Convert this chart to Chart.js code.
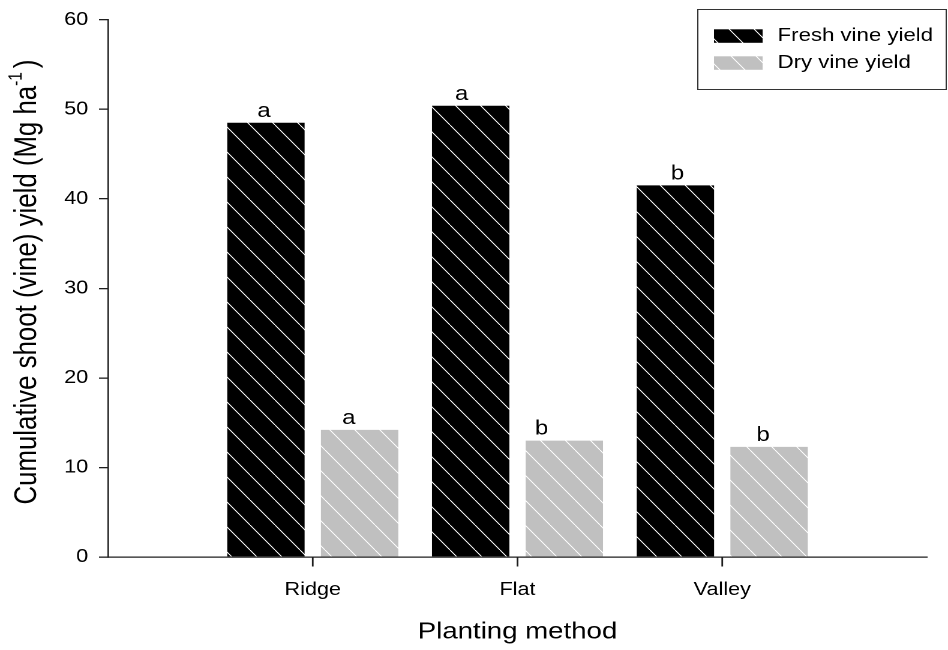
<!DOCTYPE html>
<html>
<head>
<meta charset="utf-8">
<script src="https://cdn.jsdelivr.net/npm/chart.js@4.4.1/dist/chart.umd.min.js"></script>
<style>
  html, body { margin: 0; padding: 0; background: #fff; overflow: hidden; }
  canvas { display: block; }
</style>
</head>
<body>
<!-- drawn on a narrower canvas and widened 1.2x by CSS for the wide-lettered look -->
<canvas id="c" width="790" height="650" style="width:948px;height:650px"></canvas>
<script>
// ---- data ----
const categories   = ['Ridge', 'Flat', 'Valley'];
const seriesNames  = ['Fresh vine yield', 'Dry vine yield'];
const freshVine    = [48.5, 50.4, 41.5];   // Mg ha-1
const dryVine      = [14.2, 13.0, 12.3];   // Mg ha-1
const freshLetters = ['a', 'a', 'b'];
const dryLetters   = ['a', 'b', 'b'];
const yTicks       = [0, 10, 20, 30, 40, 50, 60];

// ---- styling ----
const FONT = '"Liberation Sans", Arial, Helvetica, sans-serif';
const STRETCH = 1.2;                       // CSS widening of the canvas
const AXIS = '#1e1e1e';
const fills = ['#000000', '#c0c0c0'];
// horizontal nudges of the significance letters (canvas px)
const letterShift = [[-1.7, -7.5, 1.7], [-9, -19, -5]];

function hatch(base) {
  const R = 4, T = 25 * R;                // tile drawn at 4x, 25px period
  const tile = document.createElement('canvas');
  tile.width = T; tile.height = T;
  const t = tile.getContext('2d');
  t.fillStyle = base;
  t.fillRect(0, 0, T, T);
  t.strokeStyle = '#ffffff';
  t.lineWidth = 0.95 * R;
  for (let k = -1; k <= 1; k++) {
    t.beginPath();
    t.moveTo(k * T, 0);
    t.lineTo(k * T + T, T);
    t.stroke();
  }
  const p = document.createElement('canvas').getContext('2d').createPattern(tile, 'repeat');
  p.setTransform(new DOMMatrix().scale(1 / (R * STRETCH), 1 / R));
  return p;
}
const patterns = fills.map(hatch);

const decorations = {
  id: 'decorations',
  afterDatasetsDraw(chart) {
    const ctx = chart.ctx;
    ctx.save();
    ctx.fillStyle = '#000';
    ctx.font = '20px ' + FONT;
    ctx.textAlign = 'center';
    ctx.textBaseline = 'alphabetic';
    [freshLetters, dryLetters].forEach((letters, d) => {
      chart.getDatasetMeta(d).data.forEach((bar, i) => {
        ctx.fillText(letters[i], bar.x + letterShift[d][i], bar.y - 6);
      });
    });
    ctx.restore();
  },
  afterDraw(chart) {
    const ctx = chart.ctx;
    const area = chart.chartArea;
    const xs = chart.scales.x;
    ctx.save();

    // category tick marks below the x axis
    ctx.fillStyle = AXIS;
    categories.forEach((_, i) => {
      const px = xs.getPixelForValue(i + 1);
      ctx.fillRect(px - 0.7, area.bottom, 1.4, 9.5);
    });

    ctx.fillStyle = '#000';
    // x axis title
    ctx.font = '23px ' + FONT;
    ctx.textAlign = 'center';
    ctx.textBaseline = 'middle';
    ctx.fillText('Planting method', (area.left + area.right) / 2, 632);

    // y axis title with superscript unit
    const main = 'Cumulative shoot (vine) yield (Mg ha';
    const sup = '-1';
    const tail = ')';
    const fMain = '25.8px ' + FONT, fSup = '15.5px ' + FONT;
    ctx.font = fMain;
    const wMain = ctx.measureText(main).width;
    const wTail = ctx.measureText(tail).width;
    ctx.font = fSup;
    const wSup = ctx.measureText(sup).width;
    const gap = 4;
    const total = wMain + wSup + gap + wTail;
    ctx.translate(23, 282);
    ctx.rotate(-Math.PI / 2);
    ctx.textAlign = 'left';
    ctx.textBaseline = 'middle';
    let x = -total / 2;
    ctx.font = fMain; ctx.fillText(main, x, 0); x += wMain;
    ctx.font = fSup;  ctx.fillText(sup, x, -9.5); x += wSup + gap;
    ctx.font = fMain; ctx.fillText(tail, x, 0);
    ctx.restore();

    // legend
    ctx.save();
    ctx.strokeStyle = '#333';
    ctx.lineWidth = 1;
    ctx.strokeRect(581.5, 9.5, 207, 80);
    ctx.font = '18.5px ' + FONT;
    ctx.textAlign = 'left';
    ctx.textBaseline = 'middle';
    const rows = [36, 63];
    chart.data.datasets.forEach((ds, d) => {
      ctx.fillStyle = patterns[d];
      ctx.fillRect(595, rows[d] - 6.7, 40.5, 13.5);
      ctx.fillStyle = '#000';
      ctx.fillText(ds.label, 648, rows[d]);
    });
    ctx.restore();
  }
};

const toPoints = vals => vals.map((v, i) => ({ x: i + 1, y: v }));

new Chart(document.getElementById('c'), {
  type: 'bar',
  data: {
    datasets: [
      { label: seriesNames[0], data: toPoints(freshVine), backgroundColor: patterns[0], borderWidth: 0 },
      { label: seriesNames[1], data: toPoints(dryVine),   backgroundColor: patterns[1], borderWidth: 0 }
    ]
  },
  options: {
    responsive: false,
    devicePixelRatio: 2,
    animation: false,
    events: [],
    categoryPercentage: 0.915,
    barPercentage: 0.826,
    layout: { padding: { top: 19, right: 17.5, left: 0, bottom: 0 } },
    plugins: { legend: { display: false }, tooltip: { enabled: false }, title: { display: false } },
    scales: {
      x: {
        type: 'linear',
        min: 0,
        max: categories.length + 1,
        offset: false,
        afterBuildTicks: s => { s.ticks = categories.map((_, i) => ({ value: i + 1 })); },
        afterFit: s => { s.height = 93; },
        ticks: {
          callback: v => categories[v - 1] ?? '',
          font: { family: FONT, size: 18 },
          color: '#000',
          padding: 13,
          maxRotation: 0,
          autoSkip: false
        },
        grid: { display: false, drawTicks: true, tickLength: 9 },
        border: { display: true, color: AXIS, width: 1.3 }
      },
      y: {
        min: yTicks[0],
        max: yTicks[yTicks.length - 1],
        afterBuildTicks: s => { s.ticks = yTicks.map(v => ({ value: v })); },
        afterFit: s => { s.width = 90; },
        ticks: {
          font: { family: FONT, size: 18 },
          color: '#000',
          padding: 9
        },
        grid: { display: true, offset: false, drawOnChartArea: false, drawTicks: true, tickLength: 7.5, color: AXIS, lineWidth: 1.3 },
        border: { display: true, color: AXIS, width: 1.3 }
      }
    }
  },
  plugins: [decorations]
});
</script>
</body>
</html>
